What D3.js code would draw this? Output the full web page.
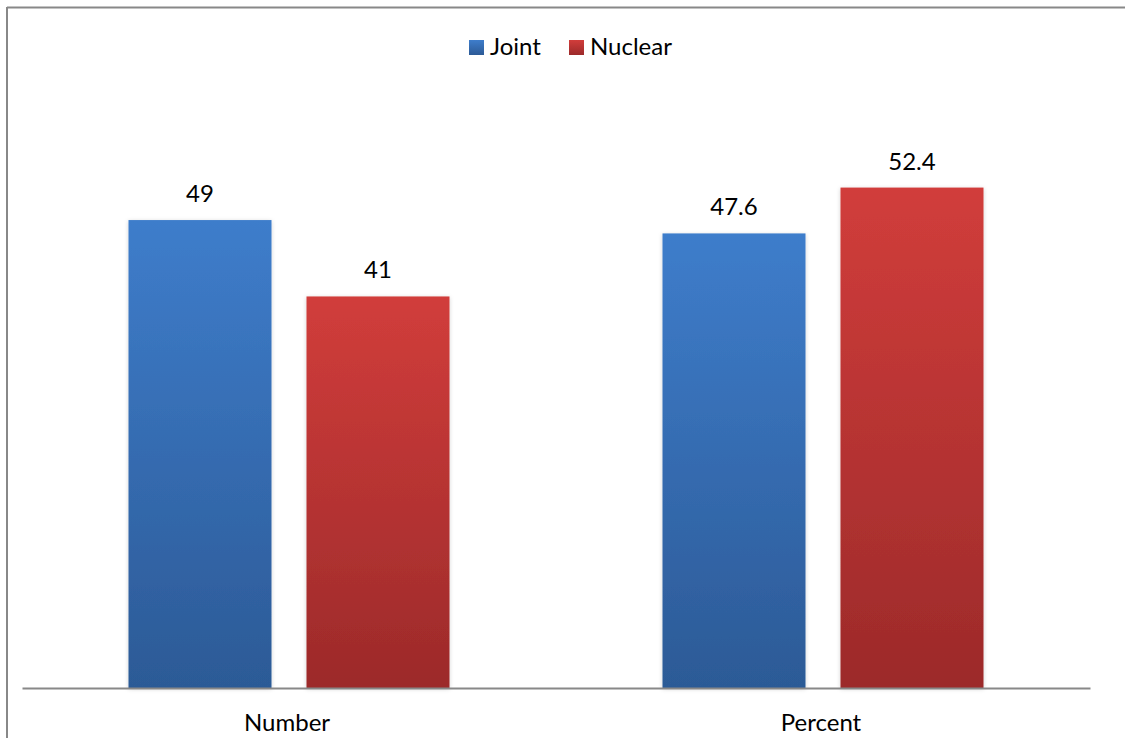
<!DOCTYPE html>
<html>
<head>
<meta charset="utf-8">
<script src="https://cdn.jsdelivr.net/npm/d3@7"></script>
<style>
  html, body { margin: 0; padding: 0; background: #fff; }
  svg { display: block; font-family: Lato, "Open Sans", sans-serif; }
</style>
</head>
<body>
<svg id="chart" width="1125" height="738"></svg>
<script>
// Household type counts and shares
const categories = ["Number", "Percent"];
const seriesNames = ["Joint", "Nuclear"];
const jointValues = [49, 47.6];
const nuclearValues = [41, 52.4];
const yTicks = [0, 10, 20, 30, 40, 50, 60];

const W = 1125, H = 738;
const plot = { left: 22, right: 1090, top: 115, bottom: 688 };
const fontSize = 24;

const svg = d3.select("#chart");

const defs = svg.append("defs");
const grads = {
  Joint: ["#3e7dcb", "#2c5a96"],
  Nuclear: ["#d13d3b", "#9c2a2a"]
};
Object.entries(grads).forEach(([k, [top, bot]]) => {
  const g = defs.append("linearGradient")
    .attr("id", "grad-" + k).attr("x1", 0).attr("y1", 0).attr("x2", 0).attr("y2", 1);
  g.append("stop").attr("offset", "0%").attr("stop-color", top);
  g.append("stop").attr("offset", "100%").attr("stop-color", bot);
});
const shadow = defs.append("filter").attr("id", "shadow")
  .attr("x", "-10%").attr("y", "-10%").attr("width", "120%").attr("height", "120%");
shadow.append("feDropShadow").attr("dx", 0).attr("dy", 1).attr("stdDeviation", 2)
  .attr("flood-color", "#000").attr("flood-opacity", 0.18);

// Frame lines (top and left)
svg.append("line").attr("x1", 7).attr("y1", 7.5).attr("x2", W).attr("y2", 7.5)
  .attr("stroke", "#888").attr("stroke-width", 2);
svg.append("line").attr("x1", 7).attr("y1", 7).attr("x2", 7).attr("y2", H)
  .attr("stroke", "#888").attr("stroke-width", 2);

// One band per category; the two bars sit centred inside it
const groupScale = d3.scaleBand().domain(categories).range([plot.left, plot.right]);
const groupWidth = 321;
const x1 = d3.scaleBand().domain(seriesNames).range([0, groupWidth]).paddingInner(35 / 178);

const y = d3.scaleLinear().domain([yTicks[0], yTicks[yTicks.length - 1]])
  .range([plot.bottom, plot.top]);

const rows = categories.map((c, i) => ({
  category: c,
  values: [
    { series: "Joint", value: jointValues[i] },
    { series: "Nuclear", value: nuclearValues[i] }
  ]
}));

const groups = svg.selectAll("g.group").data(rows).enter().append("g")
  .attr("class", "group")
  .attr("transform", d => `translate(${groupScale(d.category) + (groupScale.bandwidth() - groupWidth) / 2},0)`);

groups.selectAll("rect").data(d => d.values).enter().append("rect")
  .attr("x", d => x1(d.series))
  .attr("width", x1.bandwidth())
  .attr("y", d => y(d.value))
  .attr("height", d => y(0) - y(d.value))
  .attr("fill", d => `url(#grad-${d.series})`)
  .attr("filter", "url(#shadow)");

groups.selectAll("text.val").data(d => d.values).enter().append("text")
  .attr("class", "val")
  .attr("x", d => x1(d.series) + x1.bandwidth() / 2)
  .attr("y", d => y(d.value) - 18)
  .attr("text-anchor", "middle")
  .attr("font-size", fontSize)
  .attr("fill", "#000")
  .text(d => d.value);

// Category axis
const xAxis = d3.axisBottom(groupScale).tickSize(0).tickPadding(0);
const axisG = svg.append("g").attr("transform", `translate(0,${plot.bottom})`).call(xAxis);
axisG.select(".domain").attr("stroke", "#888").attr("stroke-width", 2);
axisG.selectAll("text").attr("font-size", fontSize).attr("fill", "#000")
  .attr("font-family", "Lato, 'Open Sans', sans-serif")
  .attr("dy", 0).attr("y", 43).attr("dx", -2);

// Legend
const legendItems = [
  { name: "Joint", x: 469 },
  { name: "Nuclear", x: 569 }
];
const legend = svg.append("g");
legend.selectAll("rect").data(legendItems).enter().append("rect")
  .attr("x", d => d.x).attr("y", 40).attr("width", 15).attr("height", 15)
  .attr("fill", d => `url(#grad-${d.name})`);
legend.selectAll("text").data(legendItems).enter().append("text")
  .attr("x", d => d.x + 21).attr("y", 55)
  .attr("font-size", fontSize).attr("fill", "#000")
  .text(d => d.name);
</script>
</body>
</html>
